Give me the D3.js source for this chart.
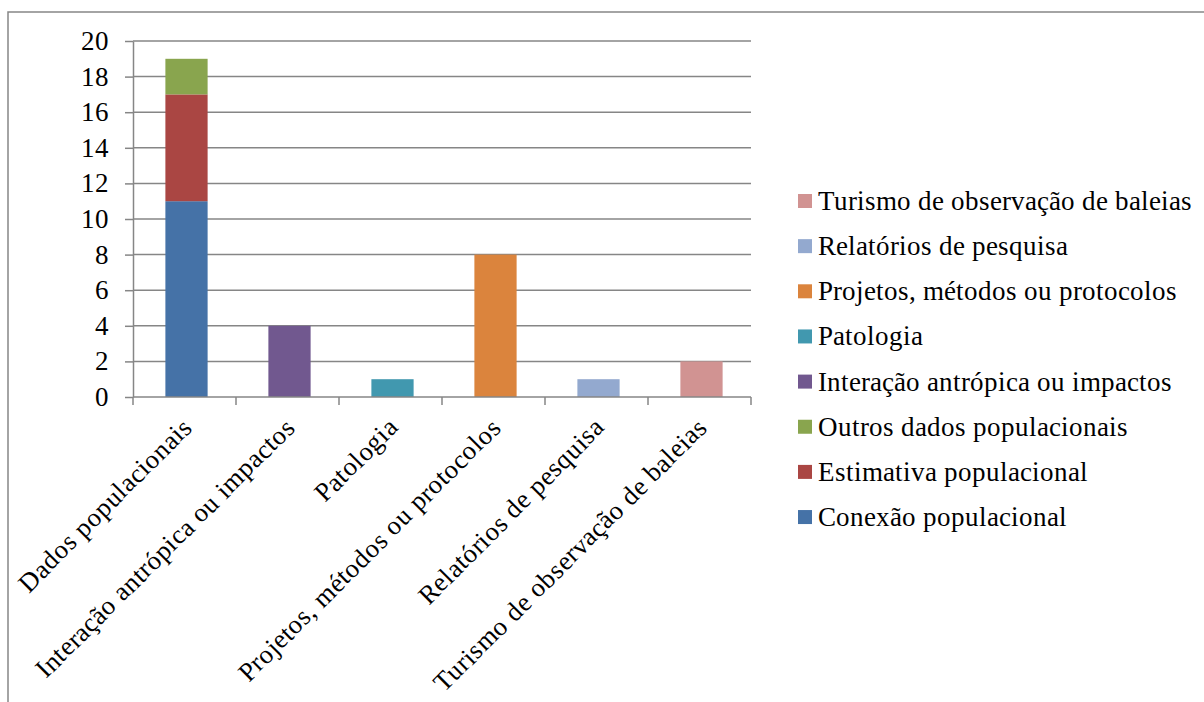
<!DOCTYPE html>
<html>
<head>
<meta charset="utf-8">
<script src="https://cdn.jsdelivr.net/npm/d3@7"></script>
<style>
  @font-face {
    font-family: "ChartSerif";
    src: local("Liberation Serif"), local("LiberationSerif"), local("Times New Roman");
  }
</style>
</head>
<body style="margin:0;background:#fff">
<svg id="chart" width="1204" height="702"></svg>
<script>
// Categories on the x axis
const categories = [
  "Dados populacionais",
  "Interação antrópica ou impactos",
  "Patologia",
  "Projetos, métodos ou protocolos",
  "Relatórios de pesquisa",
  "Turismo de observação de baleias"
];

// Stacked series (in stacking order) and their values per category
const seriesNames = [
  "Conexão populacional",
  "Estimativa populacional",
  "Outros dados populacionais",
  "Interação antrópica ou impactos",
  "Patologia",
  "Projetos, métodos ou protocolos",
  "Relatórios de pesquisa",
  "Turismo de observação de baleias"
];
const conexao    = [11, 0, 0, 0, 0, 0];
const estimativa = [6, 0, 0, 0, 0, 0];
const outros     = [2, 0, 0, 0, 0, 0];
const interacao  = [0, 4, 0, 0, 0, 0];
const patologia  = [0, 0, 1, 0, 0, 0];
const projetos   = [0, 0, 0, 8, 0, 0];
const relatorios = [0, 0, 0, 0, 1, 0];
const turismo    = [0, 0, 0, 0, 0, 2];
const seriesValues = [conexao, estimativa, outros, interacao, patologia, projetos, relatorios, turismo];

const seriesColors = ["#4572A7", "#AA4643", "#89A54E", "#71588F", "#4198AF", "#DB843D", "#93A9CF", "#D19392"];

const yTicks = [0, 2, 4, 6, 8, 10, 12, 14, 16, 18, 20];

const svg = d3.select("#chart");
const gridColor = "#868686";
const fontFamily = "ChartSerif, 'Liberation Serif', 'Times New Roman', serif";
const fontSize = "26.5px";

// Serif text styling applied to every label
function serif(sel) {
  sel.each(function () {
    this.style.setProperty("font-family", fontFamily, "important");
    this.style.setProperty("font-size", fontSize, "important");
  });
  sel.attr("fill", "#000");
}

// Outer chart frame
svg.append("rect")
  .attr("x", 8).attr("y", 12)
  .attr("width", 1210).attr("height", 720)
  .attr("fill", "none")
  .attr("stroke", gridColor)
  .attr("stroke-width", 1.5);

const plot = { left: 133, right: 751, top: 41, bottom: 397 };

const x = d3.scaleBand()
  .domain(categories)
  .range([plot.left, plot.right])
  .paddingInner(0.59)
  .paddingOuter(0.295);

const xOuter = d3.scaleBand()
  .domain(categories)
  .range([plot.left, plot.right]);

const y = d3.scaleLinear()
  .domain([0, 20])
  .range([plot.bottom, plot.top]);

// Horizontal gridlines
svg.append("g")
  .selectAll("line")
  .data(yTicks.filter(d => d > 0))
  .join("line")
  .attr("x1", plot.left).attr("x2", plot.right)
  .attr("y1", d => y(d)).attr("y2", d => y(d))
  .attr("stroke", gridColor)
  .attr("stroke-width", 1.5);

// Stacked bars
const table = categories.map((c, i) => {
  const row = { category: c };
  seriesNames.forEach((s, j) => { row[s] = seriesValues[j][i]; });
  return row;
});
const stacked = d3.stack().keys(seriesNames)(table);

svg.append("g")
  .selectAll("g")
  .data(stacked)
  .join("g")
  .attr("fill", (d, i) => seriesColors[i])
  .selectAll("rect")
  .data(d => d.filter(p => p[1] - p[0] > 0))
  .join("rect")
  .attr("x", d => x(d.data.category) + 2)
  .attr("width", x.bandwidth())
  .attr("y", d => y(d[1]))
  .attr("height", d => y(d[0]) - y(d[1]));

// Y axis
const yAxis = svg.append("g")
  .attr("transform", `translate(${plot.left},0)`)
  .call(d3.axisLeft(y).tickValues(yTicks).tickSize(8).tickPadding(16).tickSizeOuter(0));
yAxis.attr("font-family", null).attr("font-size", null);
yAxis.select(".domain").attr("stroke", gridColor).attr("stroke-width", 1.5);
yAxis.selectAll(".tick line").attr("stroke", gridColor).attr("stroke-width", 1.5);
yAxis.selectAll(".tick text").call(serif);

// X axis: tick marks at category boundaries
const boundaries = categories.map(c => xOuter(c)).concat([plot.right]);
svg.append("line")
  .attr("x1", plot.left).attr("x2", plot.right)
  .attr("y1", plot.bottom).attr("y2", plot.bottom)
  .attr("stroke", gridColor).attr("stroke-width", 1.5);
svg.append("g")
  .selectAll("line")
  .data(boundaries)
  .join("line")
  .attr("x1", d => d).attr("x2", d => d)
  .attr("y1", plot.bottom).attr("y2", plot.bottom + 8)
  .attr("stroke", gridColor).attr("stroke-width", 1.5);

// Rotated category labels
svg.append("g")
  .selectAll("text")
  .data(categories)
  .join("text")
  .attr("transform", d => `translate(${xOuter(d) + xOuter.bandwidth() / 2 + 9},${plot.bottom + 32}) rotate(-45)`)
  .attr("text-anchor", "end")
  .call(serif)
  .text(d => d);

// Legend (listed in reverse stacking order)
const legendItems = seriesNames.map((s, i) => ({ name: s, color: seriesColors[i] })).reverse();
const legend = svg.append("g");
const legendRow = legend.selectAll("g")
  .data(legendItems)
  .join("g")
  .attr("transform", (d, i) => `translate(798,${201 + i * 45.15})`);
legendRow.append("rect")
  .attr("x", 0).attr("y", -7)
  .attr("width", 14).attr("height", 14)
  .attr("fill", d => d.color);
legendRow.append("text")
  .attr("x", 20).attr("y", 9)
  .call(serif)
  .text(d => d.name);
</script>
</body>
</html>
